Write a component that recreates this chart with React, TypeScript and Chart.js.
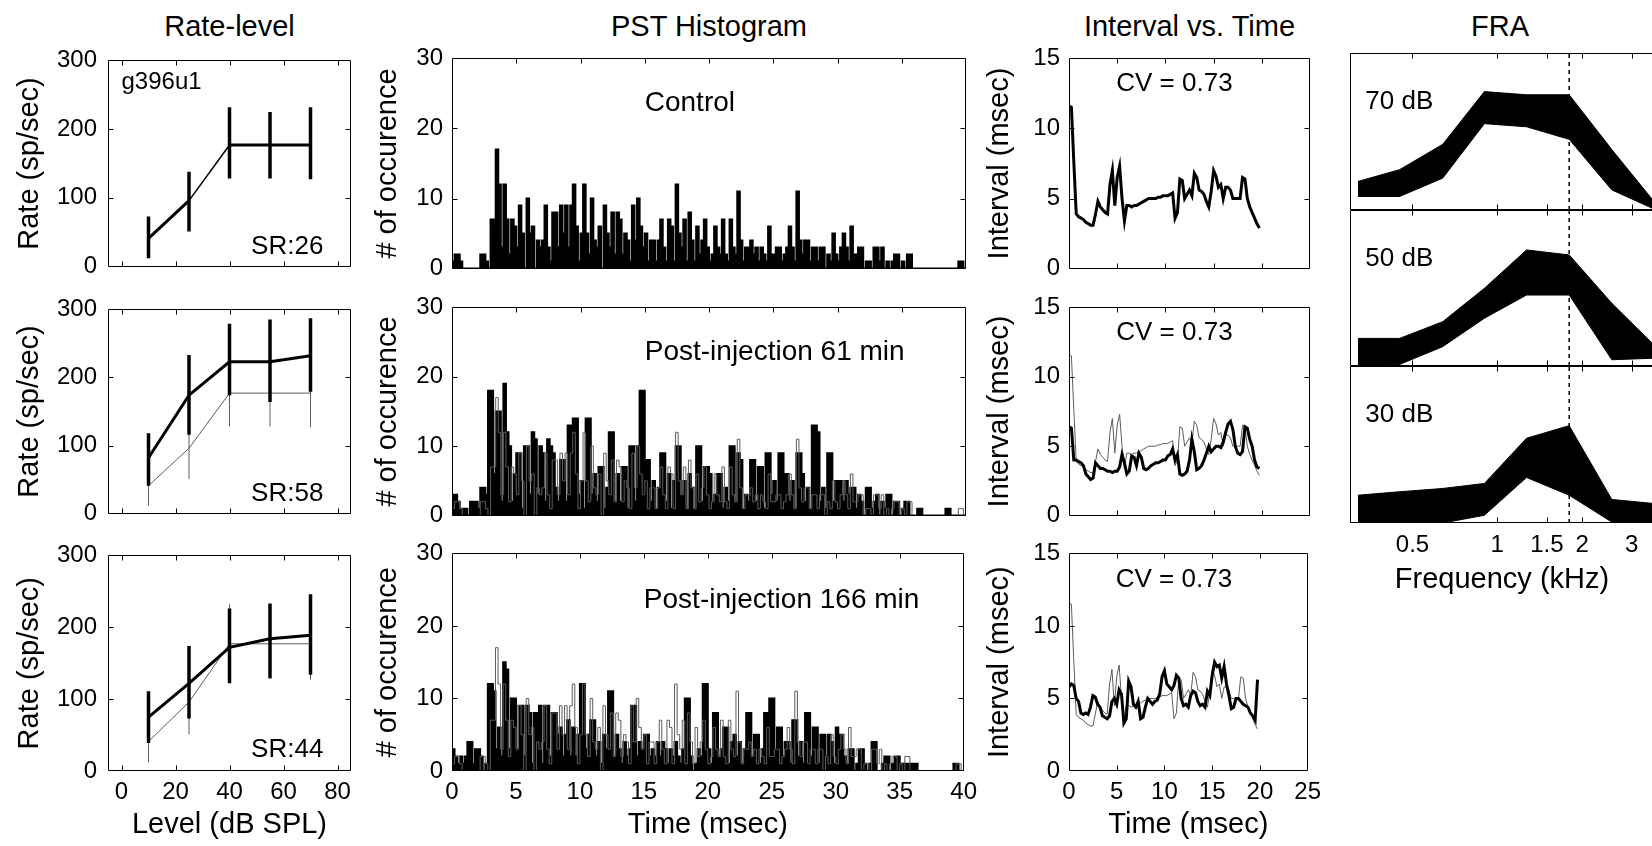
import React, { useEffect, useRef } from "react";
import { Chart, registerables } from "chart.js";

Chart.register(...registerables);

const FONT = '"Liberation Sans", Arial, Helvetica, sans-serif';
const FS_TICK = 24;
const FS_LABEL = 29;
const FS_TITLE = 29;
Chart.defaults.font.family = FONT;
Chart.defaults.font.size = FS_TICK;
Chart.defaults.color = "#000";

// ---------------- DATA ----------------
const COLUMN_TITLES = ["Rate-level", "PST Histogram", "Interval vs. Time", "FRA"];

// Rate-level
const LEVELS = [10, 25, 40, 55, 70];
const RATE_CTRL = [41, 96, 177, 177, 177];
const RATE_CTRL_LO = [12, 51, 128, 128, 127];
const RATE_CTRL_HI = [73, 138, 232, 225, 232];
const RATE_61 = [82, 174, 223, 223, 232];
const RATE_61_LO = [41, 116, 174, 164, 179];
const RATE_61_HI = [118, 233, 279, 285, 287];
const RATE_166 = [75, 122, 172, 184, 189];
const RATE_166_LO = [39, 73, 122, 129, 134];
const RATE_166_HI = [111, 174, 226, 233, 246];
const SR_LABELS = ["SR:26", "SR:58", "SR:44"];
const UNIT_LABEL = "g396u1";
const RATE_X_TICKS = [0, 20, 40, 60, 80];
const RATE_X_LABELS = ["0", "20", "40", "60", "80"];
const RATE_Y_TICKS = [0, 100, 200, 300];
const RATE_Y_LABELS = ["0", "100", "200", "300"];

// PST histograms, 0.2 ms bins, 0-40 ms
const PSTH_BIN_MS = 0.2;
const PSTH_CTRL = [
  1, 2, 2, 1, 0, 0, 0, 0, 0, 0, 0, 2, 2, 1, 0, 7, 7, 17, 12, 3,
  12, 7, 2, 7, 6, 3, 9, 5, 0, 10, 5, 6, 0, 4, 3, 4, 9, 3, 1, 8,
  8, 3, 9, 5, 9, 3, 9, 12, 6, 1, 5, 12, 5, 2, 10, 4, 3, 6, 0, 9,
  5, 3, 8, 2, 8, 7, 2, 5, 4, 1, 9, 4, 10, 6, 3, 5, 1, 4, 4, 1,
  4, 7, 3, 1, 7, 6, 1, 12, 5, 3, 7, 1, 8, 4, 1, 6, 2, 4, 7, 3,
  1, 2, 6, 3, 2, 7, 2, 1, 7, 3, 2, 11, 4, 1, 3, 3, 4, 2, 3, 1,
  3, 2, 1, 6, 2, 2, 3, 3, 1, 2, 3, 6, 3, 1, 11, 4, 2, 4, 4, 1,
  3, 3, 1, 3, 3, 0, 2, 1, 5, 2, 1, 3, 5, 3, 1, 6, 2, 2, 3, 3,
  0, 1, 1, 0, 3, 3, 1, 3, 0, 1, 0, 1, 2, 2, 0, 1, 0, 2, 2, 0,
  0, 0, 0, 0, 0, 0, 0, 0, 0, 0, 0, 0, 0, 0, 0, 0, 0, 1, 1, 0,
];
const PSTH_61 = [
  3, 3, 2, 1, 1, 1, 0, 2, 2, 2, 1, 4, 4, 3, 18, 18, 6, 15, 15, 2,
  19, 12, 10, 2, 6, 9, 9, 1, 10, 10, 3, 12, 11, 3, 10, 9, 2, 11, 10, 9,
  4, 2, 8, 8, 2, 13, 13, 14, 14, 3, 5, 1, 14, 14, 3, 6, 2, 7, 7, 1,
  4, 12, 12, 2, 6, 2, 7, 7, 1, 10, 10, 2, 10, 18, 18, 8, 8, 2, 5, 1,
  4, 9, 9, 2, 6, 1, 5, 10, 10, 3, 5, 1, 6, 4, 1, 10, 10, 2, 7, 7,
  6, 2, 3, 6, 6, 1, 4, 2, 10, 10, 2, 9, 8, 1, 3, 2, 8, 8, 2, 7,
  7, 1, 9, 9, 3, 5, 2, 9, 9, 6, 6, 2, 5, 1, 9, 9, 6, 2, 4, 1,
  13, 13, 12, 2, 4, 1, 9, 9, 2, 5, 5, 5, 2, 5, 3, 4, 4, 1, 3, 2,
  0, 4, 4, 1, 2, 3, 0, 2, 1, 3, 3, 0, 2, 2, 0, 1, 2, 2, 0, 0,
  0, 1, 1, 0, 0, 0, 0, 0, 0, 0, 0, 0, 1, 1, 0, 0, 0, 0, 0, 0,
];
const PSTH_166 = [
  3, 2, 1, 2, 1, 2, 4, 4, 1, 3, 3, 2, 0, 1, 12, 12, 11, 3, 6, 2,
  15, 14, 3, 10, 10, 3, 9, 9, 2, 9, 8, 1, 8, 8, 9, 1, 9, 9, 2, 8,
  8, 5, 6, 2, 5, 7, 2, 6, 2, 5, 12, 12, 3, 5, 7, 7, 2, 4, 1, 5,
  3, 11, 11, 2, 5, 3, 1, 4, 2, 3, 9, 9, 2, 4, 3, 5, 5, 2, 3, 2,
  4, 2, 4, 3, 1, 3, 2, 4, 2, 1, 3, 10, 10, 2, 0, 1, 3, 2, 12, 12,
  3, 1, 8, 8, 2, 3, 6, 6, 1, 4, 5, 2, 4, 1, 3, 8, 8, 2, 5, 5,
  1, 3, 8, 8, 10, 10, 3, 6, 6, 2, 4, 4, 1, 7, 7, 2, 4, 1, 8, 8,
  2, 6, 6, 1, 5, 5, 2, 5, 4, 1, 6, 5, 5, 2, 1, 3, 3, 0, 1, 3,
  3, 1, 0, 1, 4, 4, 0, 0, 1, 2, 2, 0, 1, 2, 2, 1, 1, 1, 1, 1,
  1, 1, 0, 0, 0, 0, 0, 0, 0, 0, 0, 0, 0, 0, 0, 0, 1, 1, 0, 0,
];
const PSTH_LABELS = ["Control", "Post-injection 61 min", "Post-injection 166 min"];
const PSTH_X_TICKS = [0, 5, 10, 15, 20, 25, 30, 35, 40];
const PSTH_X_LABELS = ["0", "5", "10", "15", "20", "25", "30", "35", "40"];
const PSTH_Y_TICKS = [0, 10, 20, 30];
const PSTH_Y_LABELS = ["0", "10", "20", "30"];

// Interval vs time, 0.25 ms sampling
const INT_STEP_MS = 0.25;
const INT_CTRL = [
  11.6, 11.5, 7.6, 3.9, 3.7, 3.6, 3.5, 3.3, 3.2, 3.1,
  3.1, 3.9, 4.8, 4.4, 4.2, 4.0, 3.9, 6.0, 7.0, 4.5,
  6.5, 7.3, 5.0, 3.4, 4.5, 4.5, 4.4, 4.5, 4.5, 4.6,
  4.7, 4.8, 4.9, 5.0, 5.0, 5.0, 5.0, 5.1, 5.1, 5.2,
  5.2, 5.2, 5.3, 5.4, 3.6, 4.0, 6.4, 6.3, 5.0, 5.3,
  5.6, 5.2, 6.8, 6.5, 5.6, 5.5, 5.3, 4.8, 4.4, 5.5,
  7.0, 6.6, 5.8, 6.0, 5.0, 5.8, 5.8, 5.6, 5.0, 5.0,
  5.0, 5.0, 6.5, 6.4, 5.0, 4.4, 4.0, 3.6, 3.2, 2.9,
];
const INT_61 = [
  6.4, 6.3, 4.0, 4.0, 3.9, 3.8, 3.6, 3.0, 2.8, 2.6,
  2.7, 3.8, 3.6, 3.4, 3.4, 3.3, 3.2, 3.2, 3.1, 3.2,
  3.2, 3.5, 4.4, 3.8, 3.0, 3.2, 4.3, 4.2, 3.6, 4.5,
  4.2, 3.4, 3.3, 3.4, 3.6, 3.7, 3.8, 3.8, 3.9, 4.0,
  4.0, 4.3, 4.4, 4.8, 4.0, 4.4, 3.0, 2.9, 3.0, 3.2,
  4.0, 5.5, 4.6, 3.3, 3.4, 3.6, 4.0, 4.5, 5.0, 4.6,
  4.8, 5.0, 5.0, 4.9, 5.3, 6.0, 6.6, 6.8, 6.2, 5.0,
  4.5, 4.4, 4.6, 6.4, 6.3, 5.5, 5.0, 4.0, 3.5, 3.4,
];
const INT_166 = [
  5.8, 6.0, 5.9, 5.0, 4.8, 4.0, 3.9, 4.0, 3.9, 4.4,
  5.2, 5.1, 4.6, 4.4, 3.8, 3.7, 3.6, 3.8, 4.8, 5.0,
  4.6, 5.6, 5.3, 3.3, 3.6, 6.2, 5.8, 4.6, 4.4, 4.8,
  3.6, 3.7, 4.4, 5.0, 4.8, 4.6, 4.8, 4.9, 5.3, 6.5,
  6.9, 6.0, 5.8, 5.6, 5.9, 6.6, 6.4, 5.0, 4.5, 4.6,
  4.4, 5.2, 5.5, 5.4, 4.8, 4.5, 4.6, 4.4, 5.5, 5.2,
  6.6, 7.5, 7.2, 7.3, 6.4, 7.2, 6.0, 5.2, 4.3, 4.4,
  5.0, 5.0, 4.8, 4.6, 4.5, 4.4, 4.0, 3.8, 3.5, 6.3,
];
const CV_LABEL = "CV = 0.73";
const INT_X_TICKS = [0, 5, 10, 15, 20, 25];
const INT_X_LABELS = ["0", "5", "10", "15", "20", "25"];
const INT_Y_TICKS = [0, 5, 10, 15];
const INT_Y_LABELS = ["0", "5", "10", "15"];

// FRA (relative response per panel, 0..1)
const FRA_FREQ = [0.32, 0.45, 0.64, 0.9, 1.27, 1.8, 2.55, 3.6];
const FRA_70_UP = [0.182, 0.257, 0.418, 0.754, 0.734, 0.734, 0.385, 0.054];
const FRA_70_LO = [0.086, 0.086, 0.203, 0.55, 0.53, 0.45, 0.128, 0.006];
const FRA_50_UP = [0.177, 0.177, 0.284, 0.498, 0.744, 0.712, 0.402, 0.135];
const FRA_50_LO = [0.0, 0.01, 0.124, 0.306, 0.455, 0.455, 0.04, 0.05];
const FRA_30_UP = [0.177, 0.199, 0.22, 0.252, 0.54, 0.62, 0.15, 0.124];
const FRA_30_LO = [0.0, 0.0, 0.0, 0.049, 0.29, 0.177, 0.006, 0.0];
const FRA_LEVEL_LABELS = ["70 dB", "50 dB", "30 dB"];
const FRA_CF = 1.8;
const FRA_X_TICKS = [0.5, 1, 1.5, 2, 3];
const FRA_X_LABELS = ["0.5", "1", "1.5", "2", "3"];

// ---------------- PLUGINS ----------------
const matFrame = {
  id: "matFrame",
  afterDraw(chart: any, _a: any, opts: any) {
    const { ctx, chartArea: a } = chart;
    const xs = chart.scales.x;
    const ys = chart.scales.y;
    const L = Math.round(a.left) + 0.5;
    const R = Math.round(a.right) - 0.5;
    const T = Math.round(a.top) + 0.5;
    const B = Math.round(a.bottom) - 0.5;
    const len = 5;
    ctx.save();
    ctx.strokeStyle = "#000";
    ctx.lineWidth = 1;
    ctx.beginPath();
    ctx.rect(L, T, R - L, B - T);
    if (opts.xticks !== false) {
      for (const t of xs.ticks) {
        const p = Math.round(xs.getPixelForValue(t.value)) + 0.5;
        if (p <= L + 1 || p >= R - 1) continue;
        ctx.moveTo(p, B);
        ctx.lineTo(p, B - len);
        ctx.moveTo(p, T);
        ctx.lineTo(p, T + len);
      }
    }
    if (opts.yticks !== false) {
      for (const t of ys.ticks) {
        const p = Math.round(ys.getPixelForValue(t.value)) + 0.5;
        if (p <= T + 1 || p >= B - 1) continue;
        ctx.moveTo(L, p);
        ctx.lineTo(L + len, p);
        ctx.moveTo(R, p);
        ctx.lineTo(R - len, p);
      }
    }
    ctx.stroke();
    ctx.restore();
  },
};

const matText = {
  id: "matText",
  afterDatasetsDraw(chart: any, _a: any, opts: any) {
    const items = opts.items || [];
    const { ctx } = chart;
    const xs = chart.scales.x;
    const ys = chart.scales.y;
    ctx.save();
    ctx.fillStyle = "#000";
    ctx.textBaseline = "middle";
    for (let i = 0; i < items.length; i++) {
      const it = items[i];
      ctx.font = `${it.size || FS_TICK}px ${FONT}`;
      ctx.textAlign = it.align || "left";
      ctx.fillText(it.text, xs.getPixelForValue(it.x), ys.getPixelForValue(it.y));
    }
    ctx.restore();
  },
};
Chart.register(matFrame as any, matText as any);

// ---------------- HELPERS ----------------
const pts = (xs: number[], ys: number[]) => xs.map((x, i) => ({ x, y: ys[i] }));

function lineDs(data: any[], color: string, width: number, extra: any = {}) {
  return {
    data,
    borderColor: color,
    backgroundColor: color,
    borderWidth: width,
    pointRadius: 0,
    fill: false,
    tension: 0,
    borderCapStyle: "butt",
    borderJoinStyle: "miter",
    ...extra,
  };
}
function errDs(xs: number[], lo: number[], hi: number[], color: string, width: number) {
  return xs.map((x, i) => lineDs([{ x, y: lo[i] }, { x, y: hi[i] }], color, width));
}
function histPts(values: number[]) {
  const p = values.map((v, i) => ({ x: i * PSTH_BIN_MS, y: v }));
  p.push({ x: values.length * PSTH_BIN_MS, y: values[values.length - 1] });
  return p;
}
function seriesPts(values: number[], step: number) {
  return values.map((v, i) => ({ x: i * step, y: v }));
}

function axis(o: {
  pos: "x" | "y";
  type?: string;
  min: number;
  max: number;
  ticks: number[];
  labels?: string[] | null;
  title?: string;
  size: number;
  pad?: number;
}) {
  const horizontal = o.pos === "x";
  return {
    type: o.type || "linear",
    position: horizontal ? "bottom" : "left",
    min: o.min,
    max: o.max,
    grid: { display: false, drawTicks: false },
    border: { display: false },
    afterBuildTicks: (s: any) => {
      s.ticks = o.ticks.map((v) => ({ value: v }));
    },
    afterFit: (s: any) => {
      if (horizontal) s.height = o.size;
      else s.width = o.size;
    },
    ticks: {
      display: !!o.labels,
      autoSkip: false,
      maxRotation: 0,
      minRotation: 0,
      padding: o.pad ?? (horizontal ? 7 : 10),
      color: "#000",
      font: { family: FONT, size: FS_TICK },
      callback: (_v: any, i: number) => (o.labels ? o.labels[i] : ""),
    },
    title: o.title
      ? { display: true, text: o.title, color: "#000", font: { family: FONT, size: FS_LABEL }, padding: 0 }
      : { display: false },
  };
}

type PanelSpec = {
  id: string;
  L: number; T: number; R: number; B: number;
  padL: number; padR: number; padT: number; padB: number;
  config: any;
};

function makePanel(
  id: string,
  rect: [number, number, number, number],
  pads: [number, number, number, number],
  x: any,
  y: any,
  datasets: any[],
  texts: any[],
  frame: any = {}
): PanelSpec {
  const [L, T, R, B] = rect;
  const [padL, padR, padT, padB] = pads;
  return {
    id, L, T, R, B, padL, padR, padT, padB,
    config: {
      type: "line",
      data: { datasets },
      options: {
        animation: false,
        responsive: false,
        devicePixelRatio: 1,
        events: [],
        layout: { padding: { left: 0, right: padR, top: padT, bottom: 0 } },
        plugins: {
          legend: { display: false },
          tooltip: { enabled: false },
          title: { display: false },
          matFrame: frame,
          matText: { items: texts },
        },
        scales: { x, y },
      },
    },
  };
}

// ---------------- LAYOUT ----------------
const ROWS: [number, number][] = [[53, 276], [302, 523], [548, 771]];
const HALF_LABEL = (FS_LABEL * 1.2) / 2;
const COL_RATE = { L: 108, R: 351, labelX: 30 };
const COL_PSTH = { L: 452, R: 966, labelX: 388 };
const COL_INT = { L: 1069, R: 1310, labelX: 1000 };
const COL_FRA = { L: 1350, R: 1654 };
const FRA_ROWS: [number, number][] = [[53, 210], [210, 366], [366, 523]];
const XTITLE_Y = 825;
const FRA_XTITLE_Y = 580;
const TITLE_Y = 26;

function buildPanels(): PanelSpec[] {
  const panels: PanelSpec[] = [];
  const rateSets = [
    { m: RATE_CTRL, lo: RATE_CTRL_LO, hi: RATE_CTRL_HI },
    { m: RATE_61, lo: RATE_61_LO, hi: RATE_61_HI },
    { m: RATE_166, lo: RATE_166_LO, hi: RATE_166_HI },
  ];
  const psthSets = [PSTH_CTRL, PSTH_61, PSTH_166];
  const intSets = [INT_CTRL, INT_61, INT_166];
  const GRAY = "#5c5c5c";

  for (let r = 0; r < 3; r++) {
    const [T, B] = ROWS[r];
    const bottom = r === 2;
    const padB = bottom ? Math.round(XTITLE_Y + HALF_LABEL - B) : 16;

    // Rate-level
    {
      const s = rateSets[r];
      const mainExtra =
        r === 0 ? { segment: { borderWidth: (c: any) => (c.p0DataIndex === 1 ? 1.5 : 3) } } : {};
      const ds: any[] = [
        lineDs(pts(LEVELS, s.m), "#000", 3, mainExtra),
        ...errDs(LEVELS, s.lo, s.hi, "#000", 3.5),
      ];
      if (r > 0) {
        ds.push(lineDs(pts(LEVELS, RATE_CTRL), GRAY, 1));
        ds.push(...errDs(LEVELS, RATE_CTRL_LO, RATE_CTRL_HI, GRAY, 1));
      }
      const texts: any[] = [{ text: SR_LABELS[r], x: 48, y: 29, size: 26 }];
      if (r === 0) texts.push({ text: UNIT_LABEL, x: 0, y: 268, size: 24 });
      const padL = Math.round(COL_RATE.L - (COL_RATE.labelX - HALF_LABEL));
      panels.push(
        makePanel(
          "rate" + r,
          [COL_RATE.L, T, COL_RATE.R, B],
          [padL, 18, 18, padB],
          axis({ pos: "x", min: -5, max: 85, ticks: RATE_X_TICKS, labels: bottom ? RATE_X_LABELS : null, title: bottom ? "Level (dB SPL)" : undefined, size: padB }),
          axis({ pos: "y", min: 0, max: 300, ticks: RATE_Y_TICKS, labels: RATE_Y_LABELS, title: "Rate (sp/sec)", size: padL, pad: 11 }),
          ds,
          texts
        )
      );
    }

    // PSTH
    {
      const ds: any[] = [];
      if (r > 0) ds.push(lineDs(histPts(PSTH_CTRL), GRAY, 1, { stepped: true }));
      ds.push(lineDs(histPts(psthSets[r]), "#000", 2, { stepped: true, fill: "origin", backgroundColor: "#000" }));
      const padL = Math.round(COL_PSTH.L - (COL_PSTH.labelX - HALF_LABEL));
      panels.push(
        makePanel(
          "psth" + r,
          [COL_PSTH.L, T, COL_PSTH.R, B],
          [padL, 18, 18, padB],
          axis({ pos: "x", min: 0, max: 40, ticks: PSTH_X_TICKS, labels: bottom ? PSTH_X_LABELS : null, title: bottom ? "Time (msec)" : undefined, size: padB }),
          axis({ pos: "y", min: 0, max: 30, ticks: PSTH_Y_TICKS, labels: PSTH_Y_LABELS, title: "# of occurence", size: padL, pad: 9 }),
          ds,
          [{ text: PSTH_LABELS[r], x: 15, y: 23.6, size: 28 }]
        )
      );
    }

    // Interval vs time
    {
      const ds: any[] = [lineDs(seriesPts(intSets[r], INT_STEP_MS), "#000", 3)];
      if (r > 0) ds.push(lineDs(seriesPts(INT_CTRL, INT_STEP_MS), GRAY, 1));
      const padL = Math.round(COL_INT.L - (COL_INT.labelX - HALF_LABEL));
      panels.push(
        makePanel(
          "int" + r,
          [COL_INT.L, T, COL_INT.R, B],
          [padL, 18, 18, padB],
          axis({ pos: "x", min: 0, max: 25, ticks: INT_X_TICKS, labels: bottom ? INT_X_LABELS : null, title: bottom ? "Time (msec)" : undefined, size: padB }),
          axis({ pos: "y", min: 0, max: 15, ticks: INT_Y_TICKS, labels: INT_Y_LABELS, title: "Interval (msec)", size: padL, pad: 9 }),
          ds,
          [{ text: CV_LABEL, x: 4.9, y: 13.2, size: 26 }]
        )
      );
    }
  }

  // FRA
  const fraSets = [
    [FRA_70_LO, FRA_70_UP],
    [FRA_50_LO, FRA_50_UP],
    [FRA_30_LO, FRA_30_UP],
  ];
  for (let r = 0; r < 3; r++) {
    const [T, B] = FRA_ROWS[r];
    const bottom = r === 2;
    const padB = bottom ? Math.round(FRA_XTITLE_Y + HALF_LABEL - B) : 6;
    const [lo, up] = fraSets[r];
    const ds: any[] = [
      lineDs(pts(FRA_FREQ, lo), "#000", 1),
      lineDs(pts(FRA_FREQ, up), "#000", 1, { fill: "-1", backgroundColor: "#000" }),
      lineDs([{ x: FRA_CF, y: 0 }, { x: FRA_CF, y: 1 }], "#000", 1.5, { borderDash: [4, 4] }),
    ];
    panels.push(
      makePanel(
        "fra" + r,
        [COL_FRA.L, T, COL_FRA.R, B],
        [4, 4, 6, padB],
        axis({ pos: "x", type: "logarithmic", min: 0.32, max: 3.6, ticks: FRA_X_TICKS, labels: bottom ? FRA_X_LABELS : null, title: bottom ? "Frequency (kHz)" : undefined, size: padB, pad: 8 }),
        axis({ pos: "y", min: 0, max: 1, ticks: [], labels: null, size: 4 }),
        ds,
        [{ text: FRA_LEVEL_LABELS[r], x: 0.34, y: 0.69, size: 26 }],
        { yticks: false }
      )
    );
  }
  return panels;
}

function Panel({ spec }: { spec: PanelSpec }) {
  const ref = useRef<HTMLCanvasElement>(null);
  const w = spec.R - spec.L + spec.padL + spec.padR;
  const h = spec.B - spec.T + spec.padT + spec.padB;
  useEffect(() => {
    const c = new Chart(ref.current as HTMLCanvasElement, spec.config);
    return () => c.destroy();
  }, [spec]);
  return (
    <canvas
      ref={ref}
      width={w}
      height={h}
      style={{ position: "absolute", left: spec.L - spec.padL, top: spec.T - spec.padT, width: w, height: h }}
    />
  );
}

const PANELS = buildPanels();
const TITLE_CENTERS = [
  (COL_RATE.L + COL_RATE.R) / 2,
  (COL_PSTH.L + COL_PSTH.R) / 2,
  (COL_INT.L + COL_INT.R) / 2,
  1500,
];

export default function App() {
  return (
    <div
      style={{
        position: "fixed",
        left: 0,
        top: 0,
        width: 1652,
        height: 846,
        overflow: "hidden",
        background: "#fff",
        fontFamily: FONT,
      }}
    >
      {COLUMN_TITLES.map((t, i) => (
        <div
          key={t}
          style={{
            position: "absolute",
            left: TITLE_CENTERS[i] - 160,
            width: 320,
            top: TITLE_Y - 18,
            height: 36,
            lineHeight: "36px",
            fontSize: FS_TITLE,
            textAlign: "center",
            color: "#000",
            whiteSpace: "nowrap",
          }}
        >
          {t}
        </div>
      ))}
      {PANELS.map((p) => (
        <Panel key={p.id} spec={p} />
      ))}
    </div>
  );
}
